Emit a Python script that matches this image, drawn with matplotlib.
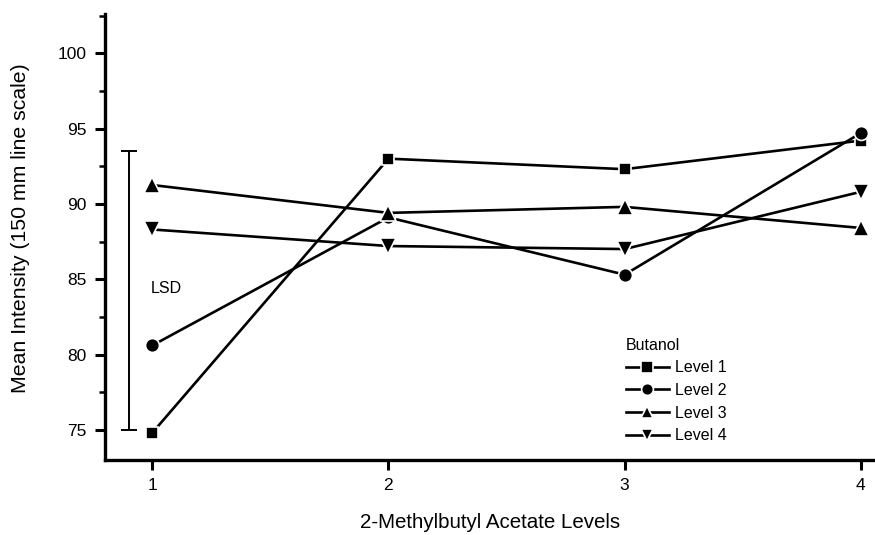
import matplotlib
matplotlib.use("Agg")
import matplotlib.pyplot as plt
from matplotlib.ticker import MultipleLocator

plt.rcParams['font.family'] = ['Liberation Sans', 'DejaVu Sans']

levels_x = [1, 2, 3, 4]
x_ticklabels = ["1", "2", "3", "4"]
butanol_level1 = [74.8, 93.0, 92.3, 94.2]
butanol_level2 = [80.6, 89.1, 85.3, 94.7]
butanol_level3 = [91.25, 89.4, 89.8, 88.4]
butanol_level4 = [88.3, 87.2, 87.0, 90.8]
series_names = ["Level 1", "Level 2", "Level 3", "Level 4"]
lsd_x = 0.9
lsd_low, lsd_high = 75.0, 93.5

fig = plt.figure(figsize=(8.75, 5.35), dpi=100)
ax = fig.add_axes([105/875, 1-460/535, 770/875, 446/535])

styles = [("s", 9), ("o", 10), ("^", 11), ("v", 11)]
for vals, name, (m, ms) in zip([butanol_level1, butanol_level2, butanol_level3, butanol_level4],
                               series_names, styles):
    ax.plot(levels_x, vals, color="black", lw=1.9, marker=m, markersize=ms,
            markerfacecolor="black", markeredgecolor="white", markeredgewidth=1.2,
            label=name, clip_on=False, zorder=3)

# LSD bar
ax.errorbar([lsd_x], [(lsd_low + lsd_high) / 2], yerr=[[(lsd_high - lsd_low) / 2]],
            fmt="none", ecolor="black", elinewidth=1.4, capsize=6, capthick=1.4)
ax.text(0.995, 84.4, "LSD", fontsize=11.5, va="center", ha="left")

ax.set_xlim(0.8, 4.06)
ax.set_ylim(73.0, 102.6)
ax.set_xticks(levels_x)
ax.set_xticklabels(x_ticklabels)
ax.set_yticks([75, 80, 85, 90, 95, 100])
ax.yaxis.set_minor_locator(MultipleLocator(2.5))

for s in ["top", "right"]:
    ax.spines[s].set_visible(False)
for s in ["left", "bottom"]:
    ax.spines[s].set_linewidth(2.4)

ax.tick_params(axis="both", which="major", direction="out", length=7, width=2.2,
               labelsize=12.5, pad=6)
ax.tick_params(axis="y", which="minor", direction="out", length=4, width=1.8)
ax.tick_params(axis="x", which="minor", length=0)

ax.set_xlabel("2-Methylbutyl Acetate Levels", fontsize=14.8, labelpad=14)
ax.set_ylabel("Mean Intensity (150 mm line scale)", fontsize=15.3)
ax.yaxis.set_label_coords(-0.098, 0.521)

leg = ax.legend(loc="upper left", bbox_to_anchor=(0.666, 0.292), frameon=False,
                title="Butanol", fontsize=11.5, title_fontsize=11.5, borderpad=0,
                handlelength=2.7, handletextpad=0.4, labelspacing=0.48,
                alignment="left")
for h in leg.legend_handles:
    h.set_markersize(8.5)

fig.savefig("out.png", dpi=100)
